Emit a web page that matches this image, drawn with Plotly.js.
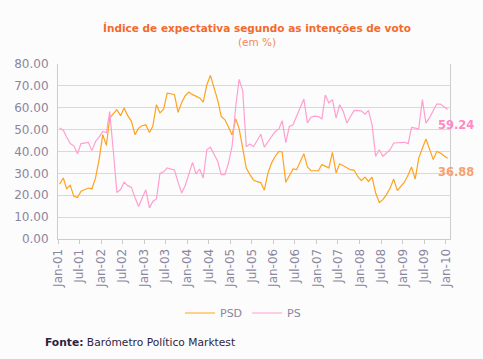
<!DOCTYPE html>
<html>
<head>
<meta charset="utf-8">
<script src="https://cdn.plot.ly/plotly-3.0.1.min.js"></script>
<style>
html,body{margin:0;padding:0;background:#fcfcfc;}
#chart{width:483px;height:359px;}
</style>
</head>
<body>
<div id="chart"></div>
<script>
// Months Jan-2001 .. Jan-2010 (one survey per month)
const months = [
"2001-01","2001-02","2001-03","2001-04","2001-05","2001-06","2001-07","2001-08","2001-09","2001-10","2001-11","2001-12",
"2002-01","2002-02","2002-03","2002-04","2002-05","2002-06","2002-07","2002-08","2002-09","2002-10","2002-11","2002-12",
"2003-01","2003-02","2003-03","2003-04","2003-05","2003-06","2003-07","2003-08","2003-09","2003-10","2003-11","2003-12",
"2004-01","2004-02","2004-03","2004-04","2004-05","2004-06","2004-07","2004-08","2004-09","2004-10","2004-11","2004-12",
"2005-01","2005-02","2005-03","2005-04","2005-05","2005-06","2005-07","2005-08","2005-09","2005-10","2005-11","2005-12",
"2006-01","2006-02","2006-03","2006-04","2006-05","2006-06","2006-07","2006-08","2006-09","2006-10","2006-11","2006-12",
"2007-01","2007-02","2007-03","2007-04","2007-05","2007-06","2007-07","2007-08","2007-09","2007-10","2007-11","2007-12",
"2008-01","2008-02","2008-03","2008-04","2008-05","2008-06","2008-07","2008-08","2008-09","2008-10","2008-11","2008-12",
"2009-01","2009-02","2009-03","2009-04","2009-05","2009-06","2009-07","2009-08","2009-09","2009-10","2009-11","2009-12",
"2010-01"
];

const psd = [
25.1,27.9,23.0,24.5,19.5,19.0,21.8,22.5,23.3,22.9,27.9,36.3,
47.7,42.8,55.3,57.3,59.1,56.4,59.9,56.4,53.8,47.7,50.7,51.8,
52.2,48.7,51.5,61.4,57.6,59.4,66.7,66.4,66.0,57.9,62.4,65.5,
67.2,66.0,65.2,64.5,62.6,70.5,74.8,69.0,63.5,56.0,54.5,51.2,
47.6,54.9,50.6,41.4,32.4,29.4,27.0,26.2,25.8,22.3,30.2,34.7,
37.8,40.0,39.8,25.9,28.6,32.0,31.7,35.5,39.0,32.9,31.2,31.2,
31.2,34.0,33.2,32.5,39.6,30.2,34.4,33.5,32.5,31.7,31.4,28.6,
26.7,28.3,26.3,28.3,21.0,16.7,18.0,20.3,23.3,27.4,22.1,24.2,
26.1,29.4,32.9,27.4,37.0,41.5,45.7,41.1,36.3,40.0,39.3,38.1,
36.88
];

const ps = [
50.7,49.7,46.6,43.6,42.6,39.0,43.6,44.0,44.2,40.4,44.6,46.6,
49.2,48.7,58.3,40.0,21.3,22.6,25.9,24.4,23.6,19.0,14.9,18.7,
22.5,14.2,17.2,18.3,30.0,30.7,32.5,32.0,31.5,26.0,21.0,24.5,
29.4,35.0,29.8,32.0,27.9,40.8,42.0,38.5,35.5,29.4,29.4,34.7,
42.5,60.6,73.0,67.8,42.2,43.4,42.2,45.0,47.9,42.0,44.5,47.0,
49.2,50.2,54.1,44.1,51.5,52.2,56.0,60.0,64.0,53.1,55.7,56.2,
56.0,54.9,65.8,62.2,63.7,55.3,61.4,58.3,53.0,56.0,58.8,58.7,
58.6,57.1,58.8,52.2,37.8,40.8,37.8,39.3,40.8,43.9,43.9,43.9,
44.2,43.6,51.0,50.7,50.4,63.7,53.0,55.5,58.5,61.7,61.7,60.5,
59.24
];

const seriesNames = ["PSD","PS"];
const titleText = "Índice de expectativa segundo as intenções de voto";
const subtitleText = "(em %)";
const sourceText = "<b>Fonte:</b> Barómetro Político Marktest";

// survey dates placed mid-month
const xDates = months.map(m => m + "-15");

const FONT = "DejaVu Sans, Verdana, sans-serif";
const psdColor = "#ffa21f";
const psColor = "#ff9fcf";

const traces = [
  {x: xDates, y: psd, name: seriesNames[0], type: "scatter", mode: "lines",
   line: {color: psdColor, width: 1.2}},
  {x: xDates, y: ps, name: seriesNames[1], type: "scatter", mode: "lines",
   line: {color: psColor, width: 1.2}}
];

const lastIdx = months.length - 1;

const layout = {
  width: 483, height: 359,
  paper_bgcolor: "#fcfcfc", plot_bgcolor: "#fcfcfc",
  margin: {l: 58, r: 33, t: 64, b: 120},
  showlegend: true,
  font: {family: FONT, size: 11, color: "#8a86a0"},
  title: {
    text: "<b>" + titleText + "</b>",
    font: {family: FONT, size: 10.5, color: "#f36a2c"},
    x: 257 / 483, xref: "container", xanchor: "center",
    y: 1 - 28 / 359, yref: "container", yanchor: "middle"
  },
  xaxis: {
    type: "date",
    range: ["2001-01-01", "2010-02-04"],
    tick0: "2001-01-01", dtick: "M6",
    tickformat: "%b-%y", tickangle: -90,
    ticks: "outside", ticklen: 4, tickcolor: "#cccccc",
    showgrid: false, showline: true, linecolor: "#cccccc", linewidth: 1,
    tickfont: {family: FONT, size: 12, color: "#8a86a0"},
    zeroline: false, fixedrange: true
  },
  yaxis: {
    range: [0, 80], dtick: 10, tickformat: ".2f",
    showgrid: true, gridcolor: "#d9d9d9", gridwidth: 1,
    showline: true, linecolor: "#cccccc", mirror: true,
    ticks: "", ticklabelstandoff: 6,
    tickfont: {family: FONT, size: 12, color: "#8a86a0"},
    zeroline: false, fixedrange: true
  },
  legend: {
    orientation: "h",
    x: 243 / 483, xref: "container", xanchor: "center",
    y: 1 - 313 / 359, yref: "container", yanchor: "middle",
    font: {family: FONT, size: 11, color: "#8a86a0"},
    bgcolor: "rgba(0,0,0,0)", itemwidth: 30
  },
  annotations: [
    {text: subtitleText, xref: "paper", yref: "paper",
     x: (257 - 58) / 392, y: (239.3 - 42) / 175.3, xanchor: "center", yanchor: "middle",
     showarrow: false, font: {family: FONT, size: 10.5, color: "#f5895a"}},
    {text: "<b>" + ps[lastIdx].toFixed(2) + "</b>", x: xDates[lastIdx], y: ps[lastIdx],
     xref: "x", yref: "y", xanchor: "left", yanchor: "middle", xshift: -12, yshift: -16,
     showarrow: false, font: {family: FONT, size: 11.5, color: "#ff8ac4"}},
    {text: "<b>" + psd[lastIdx].toFixed(2) + "</b>", x: xDates[lastIdx], y: psd[lastIdx],
     xref: "x", yref: "y", xanchor: "left", yanchor: "middle", xshift: -12, yshift: -14,
     showarrow: false, font: {family: FONT, size: 11.5, color: "#f9a070"}},
    {text: sourceText, xref: "paper", yref: "paper",
     x: (43 - 58) / 392, y: (239.3 - 343) / 175.3, xanchor: "left", yanchor: "middle",
     showarrow: false, font: {family: FONT, size: 10.7, color: "#2e1f40"}}
  ]
};

Plotly.newPlot("chart", traces, layout, {displayModeBar: false, staticPlot: true});
</script>
</body>
</html>
